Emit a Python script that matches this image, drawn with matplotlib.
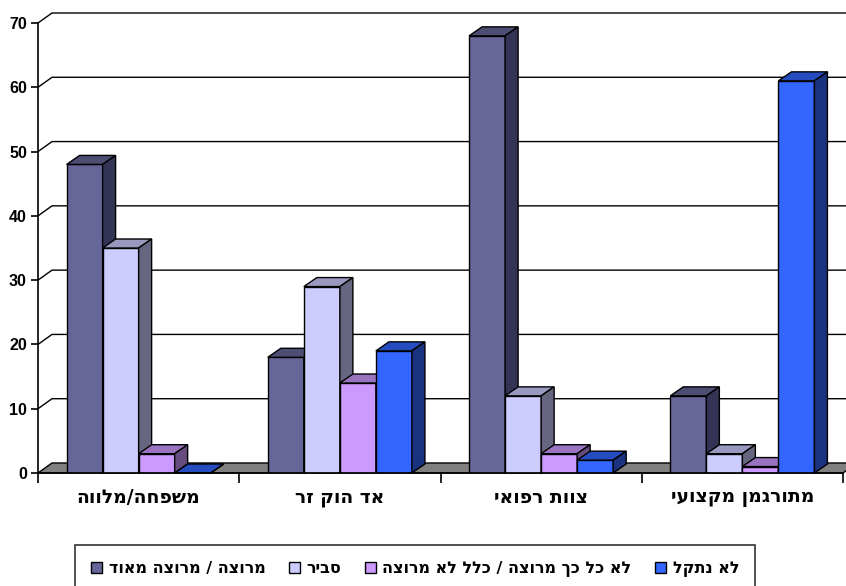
"""Satisfaction with interpreter type — Excel-style 3D clustered column chart."""

import matplotlib
matplotlib.use("Agg")
import matplotlib.pyplot as plt
from matplotlib.patches import Polygon, Patch

plt.rcParams["font.family"] = ["Liberation Sans", "DejaVu Sans"]
plt.rcParams["font.weight"] = "bold"
HEB = ["DejaVu Sans"]

categories = ["משפחה/מלווה", "אד הוק זר", "צוות רפואי", "מתורגמן מקצועי"]
series_names = ["מרוצה / מרוצה מאוד", "סביר", "לא כל כך מרוצה / כלל לא מרוצה", "לא נתקל"]
satisfied = [48, 18, 68, 12]
reasonable = [35, 29, 12, 3]
not_satisfied = [3, 14, 3, 1]
not_encountered = [0, 19, 2, 61]
y_ticks = [0, 10, 20, 30, 40, 50, 60, 70]

# front / top / side shades for each series
front_colors = ["#666699", "#CCCCFF", "#CC99FF", "#3366FF"]
top_colors = ["#4D4D73", "#9999BF", "#9973BF", "#264DBF"]
side_colors = ["#333355", "#666680", "#664D80", "#1A3380"]


def rtl(s):
    # matplotlib lays text out left-to-right, so flip Hebrew strings
    return s[::-1]


values = [satisfied, reasonable, not_satisfied, not_encountered]
n_series = len(values)
bar_w = 0.179
wall_dx, wall_dy = 0.0696, 1.556   # depth of floor / back wall
bar_dx, bar_dy = 0.0646, 1.40      # depth of each column

fig = plt.figure(figsize=(8.46, 5.86), dpi=100)
ax = fig.add_axes([38 / 846, 113 / 586, 805 / 846, 450 / 586])
ax.set_xlim(-0.5, len(categories) - 0.5)
ax.set_ylim(0, 70)

x_lo, x_hi = -0.5, len(categories) - 0.5

# back-wall gridlines
for v in y_ticks[1:]:
    ax.plot([x_lo, x_lo + wall_dx, x_hi + wall_dx + 0.2],
            [v, v + wall_dy, v + wall_dy],
            color="black", lw=1.0, clip_on=False, zorder=1)

# floor
floor = Polygon([(x_lo, 0), (x_hi, 0), (x_hi + wall_dx, wall_dy), (x_lo + wall_dx, wall_dy)],
                closed=True, facecolor="#808080", edgecolor="black", lw=1.0,
                clip_on=False, zorder=2)
ax.add_patch(floor)

z = 3
for ci in range(len(categories)):
    for si in range(n_series):
        v = values[si][ci]
        x0 = ci + (si - n_series / 2) * bar_w
        x1 = x0 + bar_w
        ax.bar(x0, v, width=bar_w, align="edge", color=front_colors[si],
               edgecolor="black", lw=1.0, zorder=z)
        top = Polygon([(x0, v), (x1, v), (x1 + bar_dx, v + bar_dy), (x0 + bar_dx, v + bar_dy)],
                      closed=True, facecolor=top_colors[si], edgecolor="black",
                      lw=1.0, clip_on=False, zorder=z)
        side = Polygon([(x1, 0), (x1 + bar_dx, bar_dy), (x1 + bar_dx, v + bar_dy), (x1, v)],
                       closed=True, facecolor=side_colors[si], edgecolor="black",
                       lw=1.0, clip_on=False, zorder=z)
        ax.add_patch(top)
        ax.add_patch(side)
        z += 1

for s in ["top", "right"]:
    ax.spines[s].set_visible(False)
for s in ["left", "bottom"]:
    ax.spines[s].set_linewidth(1.2)
    ax.spines[s].set_zorder(50)

ax.set_yticks(y_ticks)
ax.set_yticklabels([str(t) for t in y_ticks], fontsize=11.5, fontweight="bold")
ax.tick_params(axis="y", direction="out", length=5, width=1.2, pad=3)

ax.set_xticks([i - 0.5 for i in range(len(categories) + 1)])
ax.set_xticklabels([])
ax.tick_params(axis="x", which="major", direction="out", length=7, width=1.2)
ax.set_xticks(range(len(categories)), minor=True)
ax.set_xticklabels([rtl(c) for c in categories], minor=True, fontsize=13.5,
                   fontweight="bold", family=HEB)
ax.tick_params(axis="x", which="minor", length=0, pad=11)

handles = [Patch(facecolor=front_colors[i], edgecolor="black", lw=1.0) for i in range(n_series)]
leg = fig.legend(handles, [rtl(s) for s in series_names], ncol=4,
                 loc="upper left", bbox_to_anchor=(75 / 846, 1 - 545 / 586, 680 / 846, 0),
                 mode="expand", frameon=True, fancybox=False, edgecolor="black",
                 prop={"size": 11.5, "weight": "bold", "family": HEB},
                 handlelength=0.7, handleheight=0.7,
                 handletextpad=0.4, borderpad=1.0, borderaxespad=0)
leg.get_frame().set_linewidth(1.2)

fig.savefig("out.png", dpi=100)
